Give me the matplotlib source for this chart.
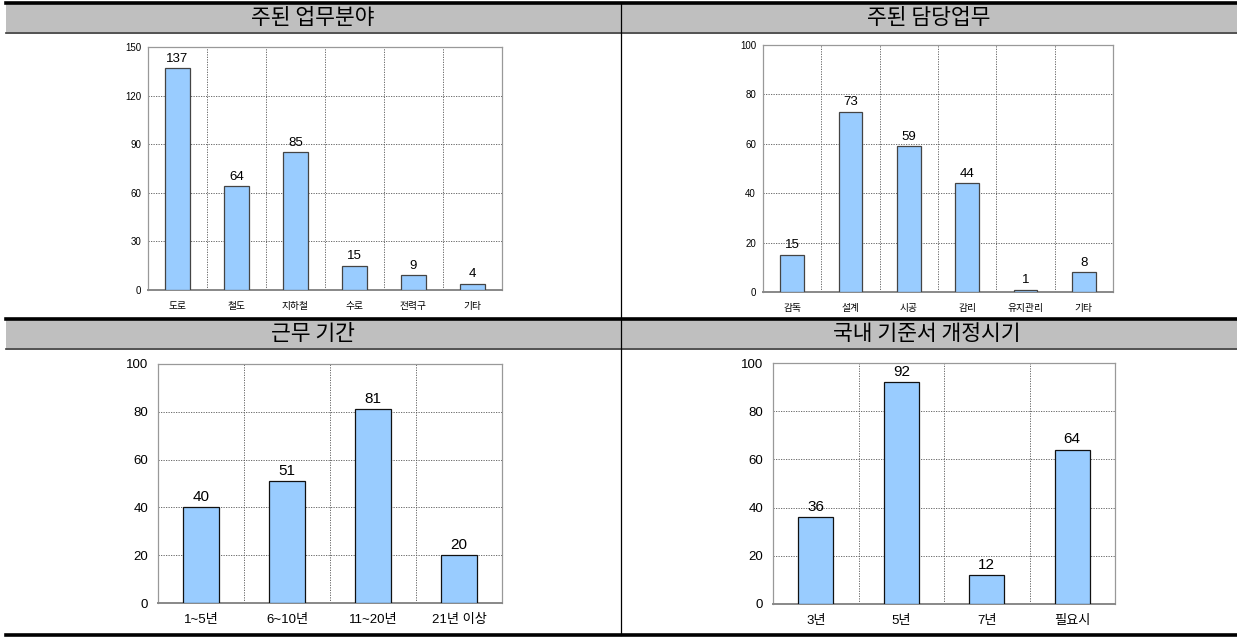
import numpy as np
import matplotlib.pyplot as plt
from matplotlib.patches import Rectangle
from matplotlib.lines import Line2D

plt.rcParams['font.family'] = ['Liberation Sans', 'Noto Sans CJK KR', 'DejaVu Sans']

# data
field_labels = ['도로', '철도', '지하철', '수로', '전력구', '기타']
field_values = [137, 64, 85, 15, 9, 4]

task_labels = ['감독', '설계', '시공', '감리', '유지관리', '기타']
task_values = [15, 73, 59, 44, 1, 8]

period_labels = ['1~5년', '6~10년', '11~20년', '21년 이상']
period_values = [40, 51, 81, 20]

revision_labels = ['3년', '5년', '7년', '필요시']
revision_values = [36, 92, 12, 64]

W, H = 1237, 637
fig = plt.figure(figsize=(W / 100, H / 100), dpi=100)


def fx(x):
    return x / W


def fy(y):
    return 1 - y / H


def header(y0, y1, x0, x1):
    fig.patches.append(Rectangle((fx(x0), fy(y1)), fx(x1) - fx(x0), fy(y0) - fy(y1),
                                 transform=fig.transFigure, facecolor='#bfbfbf',
                                 edgecolor='none', zorder=0))


def hline(y, x0, x1, lw, color='black'):
    fig.lines.append(Line2D([fx(x0), fx(x1)], [fy(y), fy(y)], transform=fig.transFigure,
                            color=color, lw=lw))


# table frame
header(4, 32, 6, 1237)
header(320, 348, 6, 1237)
hline(3, 6, 1237, 2.6)
hline(32.5, 6, 1237, 1.2, '#333333')
hline(319, 6, 1237, 2.6)
hline(348.5, 6, 1237, 1.2, '#333333')
hline(635, 6, 1237, 2.6)
fig.lines.append(Line2D([fx(620.5), fx(620.5)], [fy(3), fy(635)], transform=fig.transFigure,
                        color='black', lw=0.9))

titles = [('주된 업무분야', 313, 18), ('주된 담당업무', 929, 18),
          ('근무 기간', 313, 334), ('국내 기준서 개정시기', 927, 334)]
for t, x, y in titles:
    fig.text(fx(x), fy(y), t, ha='center', va='center', fontsize=15.5,
             weight='medium', family=['Noto Sans CJK KR'])


def bar_panel(box, labels, values, ymax, step, small, edge):
    left, right, top, bottom = box
    ax = fig.add_axes([fx(left), fy(bottom), fx(right) - fx(left), fy(top) - fy(bottom)])
    x = np.arange(len(values))
    ax.bar(x, values, width=0.41, color='#99ccff', edgecolor=edge, lw=0.9, zorder=3)
    ax.set_xlim(-0.5, len(values) - 0.5)
    ax.set_ylim(0, ymax)
    ax.set_yticks(np.arange(0, ymax + 1, step))
    ax.set_xticks(x)
    ax.set_xticklabels(labels)
    ax.set_xticks(np.arange(0.5, len(values) - 0.5, 1), minor=True)
    ax.grid(True, which='minor', axis='x', color='#555555', ls=(0, (1.5, 1.5)), lw=0.6)
    ax.grid(True, which='major', axis='y', color='#555555', ls=(0, (1.5, 1.5)), lw=0.6)
    ax.tick_params(which='both', length=0)
    if small:
        ax.tick_params(axis='y', labelsize=7, pad=5)
        ax.tick_params(axis='x', labelsize=7, pad=8)
        vsize = 9.5
    else:
        ax.tick_params(axis='y', labelsize=9.5, pad=7)
        ax.tick_params(axis='x', labelsize=9.5, pad=8)
        vsize = 11
    for s in ax.spines.values():
        s.set_color('#999999')
        s.set_linewidth(0.9)
    ax.spines['bottom'].set_color('#888888')
    ax.spines['bottom'].set_linewidth(1.4)
    ax.set_axisbelow(True)
    for xi, v in zip(x, values):
        ax.annotate(str(v), (xi, v), xytext=(0, 2.5), textcoords='offset points',
                    ha='center', va='bottom', fontsize=vsize, zorder=4)
    return ax


bar_panel((148, 502, 47, 290), field_labels, field_values, 150, 30, True, '#444444')
bar_panel((763, 1113, 45, 292), task_labels, task_values, 100, 20, True, '#444444')
bar_panel((158, 502, 364, 603), period_labels, period_values, 100, 20, False, '#111111')
bar_panel((773, 1115, 363, 604), revision_labels, revision_values, 100, 20, False, '#111111')

fig.savefig('out.png', dpi=100)
